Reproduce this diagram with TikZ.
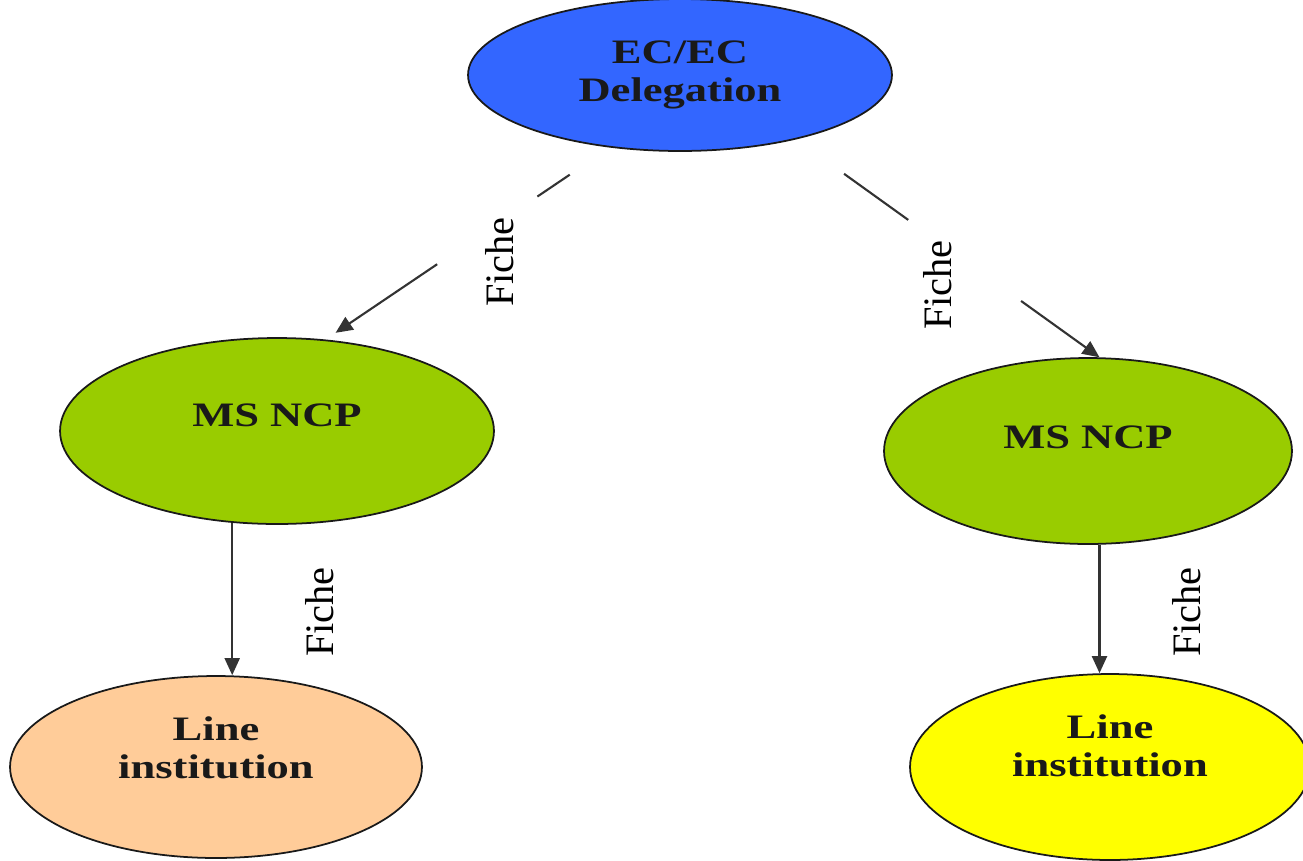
\documentclass[tikz,border=0pt]{standalone}
\usepackage{fontspec}
\setmainfont{Liberation Serif}
\newfontfamily\widefont{Liberation Serif}[FakeStretch=1.3]
\usetikzlibrary{shapes.geometric,arrows.meta}
\definecolor{ecblue}{RGB}{51,102,255}
\definecolor{ncpgreen}{RGB}{153,204,0}
\definecolor{linepeach}{RGB}{255,204,153}
\definecolor{lineyellow}{RGB}{255,255,0}

\begin{document}
\begin{tikzpicture}[x=0.02cm, y=-0.02cm,
		bubble/.style={ellipse, draw=black!90, line width=1pt, align=center, text=black!90,
			font=\widefont\bfseries\fontsize{19.5}{21.6}\selectfont},
		flow/.style={draw=black!80, line width=1.2pt, -{Triangle[length=0.34cm,width=0.3cm]}},
		fiche/.style={rotate=90, font=\fontsize{23}{26}\selectfont}]
			%%%%% START %%%%%
			
			\useasboundingbox (0, 0) rectangle (1303, 860);
			\clip (0, 0) rectangle (1303, 860);
			
			\node[bubble, fill=ecblue, minimum width=8.48cm, minimum height=3.04cm] (ec) at (680, 75) {EC/EC\\Delegation};
			
			\node[bubble, fill=ncpgreen, minimum width=8.68cm, minimum height=3.72cm, text depth=0.64cm] (ncpL) at (277, 431) {MS NCP};
			\node[bubble, fill=ncpgreen, minimum width=8.16cm, minimum height=3.72cm, text depth=0.56cm] (ncpR) at (1088, 451) {MS NCP};
			
			\node[bubble, fill=linepeach, minimum width=8.24cm, minimum height=3.64cm, text depth=0.76cm] (lineL) at (216, 767) {Line\\institution};
			\node[bubble, fill=lineyellow, minimum width=8.0cm, minimum height=3.72cm, text depth=0.84cm] (lineR) at (1110, 767) {Line\\institution};
			
			% broken arrows from the top
			\draw[flow, shorten <=0.97cm, shorten >=0.24cm, dash pattern=on 0.78cm off 2.42cm on 20cm off 1cm] (ec.226) -- (ncpL.62);
			\draw[flow, shorten <=1.18cm, dash pattern=on 1.58cm off 2.78cm on 20cm off 1cm] (ec.331) -- (ncpR.83);
			
			\draw[flow] (ncpL.244) -- (ncpL.244 |- lineL.north);
			\draw[flow] (ncpR.277) -- (ncpR.277 |- lineR.north);
			
			\node[fiche] (ficheA) at (500, 262) {Fiche};
			\node[fiche] (ficheB) at (938, 285) {Fiche};
			\node[fiche] (ficheC) at (320, 612) {Fiche};
			\node[fiche] (ficheD) at (1187, 612) {Fiche};
			
			%%%%% END %%%%%
\end{tikzpicture}
\end{document}
